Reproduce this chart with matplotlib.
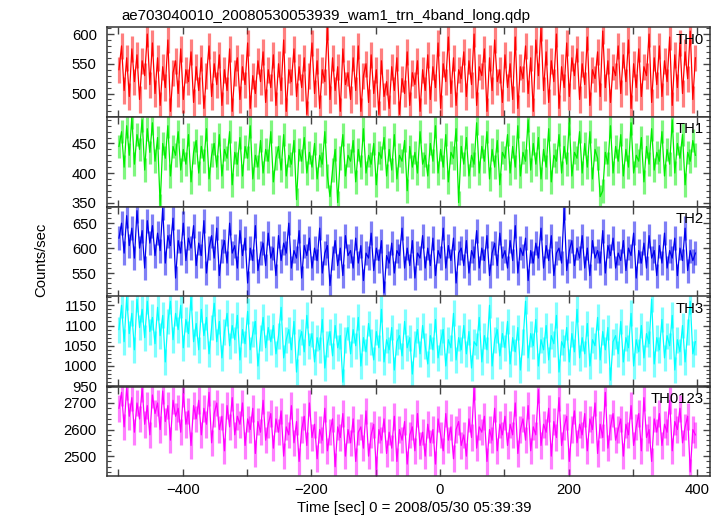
import numpy as np
import matplotlib
matplotlib.use('Agg')
import matplotlib.pyplot as plt
from matplotlib.ticker import MultipleLocator, FuncFormatter

plt.rcParams['font.family'] = ['Liberation Sans', 'DejaVu Sans']

# light curve bins (sec), 4 s spacing
t_start = -499
bin_sec = 4

th0 = [540,580,505,560,495,575,520,565,490,555,530,600,515,585,500,
       560,480,545,510,590,470,535,555,500,575,490,540,520,570,485,
       545,505,560,475,530,580,495,550,515,565,480,540,505,575,470,
       535,560,490,545,515,585,475,530,500,555,520,570,485,540,510,
       565,480,550,505,590,470,540,520,575,495,545,510,560,465,530,
       585,500,555,475,540,520,612,490,560,505,545,470,575,515,535,
       490,560,505,580,470,530,550,485,565,500,540,465,555,495,520,
       475,545,505,560,465,525,500,570,480,535,515,555,470,540,505,
       565,490,545,510,585,475,550,520,595,500,560,480,540,525,570,
       495,555,515,600,480,545,530,575,470,560,505,590,520,540,485,
       565,510,550,490,595,475,545,525,580,500,560,470,590,530,610,
       505,570,485,555,520,600,475,545,510,585,495,560,530,575,490,
       550,515,595,480,540,525,570,495,605,510,555,485,545,530,580,
       500,565,520,590,475,550,510,575,495,545,530,600,485,560,515,
       580,495,555,520,595,480,565,510,585,500,570,525,605,490,560]

th1 = [445,470,410,480,430,495,415,465,440,490,405,475,435,485,420,
       460,345,450,425,480,395,445,430,470,405,440,415,465,385,435,
       455,400,445,420,475,390,430,450,410,465,395,440,425,470,380,
       435,415,460,395,445,425,480,390,430,410,455,400,440,420,470,
       385,425,445,405,465,395,430,415,455,355,440,420,460,400,435,
       410,450,390,430,415,470,395,360,405,440,350,425,465,395,430,
       420,455,385,440,410,475,400,430,415,450,380,435,425,460,395,
       440,405,465,390,430,420,455,370,445,410,435,400,470,415,430,
       395,450,420,480,400,440,410,465,385,435,425,475,350,445,415,
       460,395,430,415,485,400,445,420,470,390,440,410,455,380,435,
       425,465,400,445,410,480,395,435,420,490,405,450,415,460,390,
       440,410,475,385,430,420,465,400,445,415,485,395,435,425,470,
       400,450,410,470,390,440,425,360,370,435,415,480,400,445,420,
       465,395,440,410,485,400,430,420,460,385,445,415,475,405,435,
       420,470,395,440,415,490,400,450,425,465,380,435,420,455,430]

th2 = [620,650,590,665,605,640,580,675,600,635,560,655,610,645,585,
       630,595,680,570,625,605,660,540,615,590,650,575,620,600,645,
       565,610,585,655,550,600,625,580,640,545,595,615,570,650,590,
       605,560,635,585,620,530,600,575,645,555,590,610,565,630,580,
       600,545,625,575,610,590,650,560,595,580,635,540,605,585,620,
       560,600,575,640,550,590,605,525,580,615,565,600,545,625,585,
       595,560,620,570,605,535,590,580,630,555,600,575,615,510,585,
       570,610,550,595,585,640,560,600,565,615,540,590,580,625,560,
       600,565,620,545,595,580,640,560,605,575,620,530,590,600,565,
       615,550,595,580,635,560,600,575,625,545,590,610,565,630,580,
       595,560,615,575,645,550,600,585,620,535,595,570,610,580,640,
       560,605,575,625,545,590,600,570,680,555,595,615,565,600,580,
       625,560,600,545,615,580,595,570,635,550,605,585,620,560,590,
       575,615,555,600,585,630,540,595,570,610,560,625,580,595,545,
       605,570,630,560,595,580,620,545,600,575,640,555,595,575,590]

th3 = [1090,1150,1060,1170,1080,1130,1040,1165,1095,1140,1070,1160,1085,1120,1055,
       1145,1075,1125,1010,1110,1160,1065,1130,1090,1150,1045,1115,1080,1170,1060,
       1105,1040,1140,1075,1120,1030,1095,1155,1060,1110,1020,1085,1130,1050,1100,
       1065,1125,1015,1090,1055,1135,1040,1080,1110,1000,1070,1120,1045,1095,1060,
       1100,1030,1075,1145,1020,1065,1090,1040,1110,985,1060,1085,1035,1125,1050,
       1080,1010,1070,1040,1115,995,1055,1085,1025,1100,1045,1075,960,1065,1095,
       1030,1090,1050,1120,1000,1070,1035,1105,1060,1015,1085,1045,1140,1010,1065,
       1040,1095,990,1060,1075,1025,1110,1045,1070,980,1055,1090,1030,1100,1050,
       1005,1075,1040,1115,1020,1060,1090,1000,1065,1045,1130,1015,1070,1040,1100,
       1030,1085,995,1060,1050,1120,1010,1075,1040,1150,1000,1065,1090,1025,1080,
       1045,1110,1005,1070,1035,1095,990,1060,1160,1020,1080,1050,1115,1000,1065,
       1040,1100,1015,1075,1055,1125,985,1060,1045,1095,1010,1080,1035,1140,1020,
       1070,1030,1105,1000,1065,1050,1120,1015,1085,1040,1095,965,1060,1075,1030,
       1110,1010,1070,1045,1130,1000,1065,1035,1100,1020,1080,1055,1165,1005,1070,
       1040,1115,1020,1075,1050,1125,990,1065,1035,1100,1010,1085,1160,1030,1060]

th0123 = [2680,2740,2610,2760,2650,2720,2590,2700,2640,2755,2620,2690,2580,2730,2660,
          2700,2600,2745,2630,2690,2560,2710,2650,2680,2590,2735,2620,2670,2540,2690,
          2640,2710,2580,2680,2620,2740,2550,2660,2700,2600,2650,2520,2690,2610,2720,
          2580,2650,2620,2700,2540,2640,2600,2680,2510,2630,2590,2710,2560,2620,2660,
          2530,2640,2590,2670,2500,2610,2580,2690,2550,2630,2480,2600,2650,2540,2700,
          2570,2620,2490,2600,2560,2680,2520,2590,2640,2460,2610,2570,2660,2500,2600,
          2550,2640,2480,2590,2610,2530,2670,2500,2580,2620,2450,2600,2560,2640,2510,
          2590,2530,2650,2480,2600,2560,2630,2470,2580,2610,2520,2660,2540,2590,2500,
          2620,2550,2600,2470,2640,2580,2520,2660,2560,2610,2490,2600,2630,2540,2580,
          2500,2640,2570,2760,2530,2610,2590,2650,2480,2600,2560,2680,2520,2620,2580,
          2650,2540,2620,2580,2700,2510,2600,2640,2560,2690,2520,2610,2580,2750,2540,
          2620,2590,2680,2500,2630,2570,2720,2540,2610,2650,2480,2600,2670,2550,2620,
          2580,2660,2520,2640,2600,2700,2510,2620,2570,2740,2530,2610,2660,2560,2600,
          2640,2500,2620,2580,2690,2540,2610,2660,2520,2720,2570,2600,2480,2640,2590,
          2660,2540,2620,2590,2710,2520,2630,2600,2680,2550,2610,2650,2440,2600,2580]

# typical 1-sigma error bar per band (counts/sec)
errs = [22, 20, 24, 32, 50]

bands = ['TH0', 'TH1', 'TH2', 'TH3', 'TH0123']
series = [th0, th1, th2, th3, th0123]
colors = ['#ff0000', '#00ee00', '#0000ee', '#00ffff', '#ff00ff']
ylims = [(460.5, 611.5), (343, 495), (503, 683), (950, 1172), (2424, 2762)]
ymajor = [50, 50, 50, 50, 100]
yminor = [10, 10, 10, 10, 20]

time = t_start + bin_sec * np.arange(len(th0))

fig = plt.figure(figsize=(7.23, 5.16), dpi=100)
left, width = 106.5 / 723, 603.5 / 723
h = 89.8 / 516
bottoms = [399, 309.3, 219.5, 129.8, 39.7]

for i, (name, y) in enumerate(zip(bands, series)):
    ax = fig.add_axes([left, bottoms[i] / 516, width, h])
    ax.errorbar(time, y, yerr=errs[i], fmt='none', ecolor=colors[i],
                elinewidth=2.3, alpha=0.5)
    ax.plot(time, y, color=colors[i], lw=0.9)
    ax.set_xlim(-518.4, 419.7)
    ax.set_ylim(*ylims[i])
    ax.xaxis.set_major_locator(MultipleLocator(100))
    ax.yaxis.set_major_locator(MultipleLocator(ymajor[i]))
    ax.yaxis.set_minor_locator(MultipleLocator(yminor[i]))
    ax.tick_params(which='both', direction='in', top=True, right=True,
                   labelsize=10.7, color='#444444')
    ax.tick_params(which='major', length=5, width=1)
    ax.tick_params(which='minor', length=3, width=0.8)
    ax.tick_params(axis='y', pad=7)
    ax.tick_params(axis='x', pad=5)
    for s in ax.spines.values():
        s.set_linewidth(1.1)
        s.set_color('#333333')
    if i < 4:
        ax.tick_params(labelbottom=False)
    else:
        ax.xaxis.set_major_formatter(FuncFormatter(
            lambda v, p: ('%d' % v).replace('-', '\u2212') if round(v) % 200 == 0 else ''))
    ax.text(0.99, 0.94, name, transform=ax.transAxes, ha='right', va='top', fontsize=10.7)

fig.text(121 / 723, 1 - 20 / 516, 'ae703040010_20080530053939_wam1_trn_4band_long.qdp',
         fontsize=10.8, ha='left', va='baseline')
fig.text(41 / 723, 1 - 260 / 516, 'Counts/sec', rotation=90, fontsize=10.7,
         ha='center', va='center')
fig.text(414 / 723, 1 - 508 / 516, 'Time [sec] 0 = 2008/05/30 05:39:39', fontsize=10.7,
         ha='center', va='center')

fig.savefig('out.png', dpi=100)
